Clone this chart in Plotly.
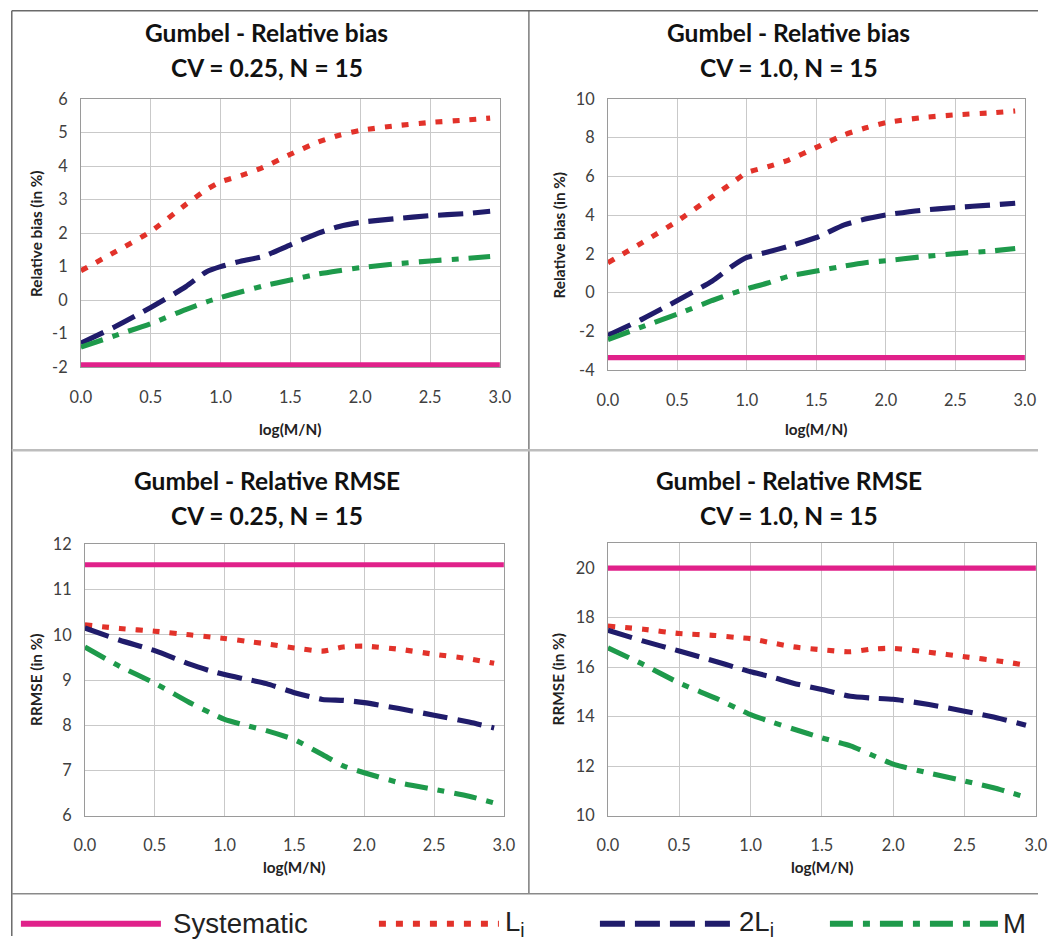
import plotly.graph_objects as go

# ---------------- data ----------------
X = [0.0, 0.25, 0.5, 0.75, 0.9, 1.0, 1.15, 1.3, 1.5, 1.7, 1.85, 2.0, 2.25, 2.5, 2.75, 2.93]
X_SYS = [0.0, 3.0]
X_TICKS = [0.0, 0.5, 1.0, 1.5, 2.0, 2.5, 3.0]

SERIES_NAMES = ["Systematic", "L<sub>i</sub>", "2L<sub>i</sub>", "M"]

# Relative bias, CV = 0.25
BIAS_025_SYS = -1.93
BIAS_025_LI = [0.88, 1.45, 2.05, 2.85, 3.30, 3.53, 3.72, 3.95, 4.35, 4.72, 4.92, 5.06, 5.20, 5.30, 5.37, 5.43]
BIAS_025_2LI = [-1.28, -0.78, -0.22, 0.40, 0.85, 1.00, 1.17, 1.30, 1.65, 2.00, 2.20, 2.32, 2.43, 2.52, 2.58, 2.65]
BIAS_025_M = [-1.40, -1.05, -0.70, -0.28, -0.05, 0.08, 0.25, 0.42, 0.60, 0.78, 0.88, 0.97, 1.08, 1.17, 1.24, 1.30]
BIAS_025_YTICKS = [-2, -1, 0, 1, 2, 3, 4, 5, 6]

# Relative bias, CV = 1.0
BIAS_10_SYS = -3.35
BIAS_10_LI = [1.55, 2.60, 3.70, 4.95, 5.70, 6.20, 6.50, 6.85, 7.50, 8.15, 8.50, 8.78, 9.03, 9.18, 9.28, 9.38]
BIAS_10_2LI = [-2.20, -1.35, -0.40, 0.60, 1.40, 1.82, 2.10, 2.40, 2.85, 3.50, 3.80, 4.02, 4.25, 4.40, 4.52, 4.62]
BIAS_10_M = [-2.42, -1.75, -1.10, -0.40, -0.02, 0.20, 0.50, 0.85, 1.12, 1.38, 1.55, 1.65, 1.85, 2.02, 2.15, 2.28]
BIAS_10_YTICKS = [-4, -2, 0, 2, 4, 6, 8, 10]

# Relative RMSE, CV = 0.25
RMSE_025_SYS = 11.55
RMSE_025_LI = [10.22, 10.14, 10.08, 10.00, 9.95, 9.92, 9.86, 9.80, 9.71, 9.64, 9.73, 9.75, 9.68, 9.57, 9.47, 9.37]
RMSE_025_2LI = [10.15, 9.88, 9.65, 9.35, 9.20, 9.12, 9.02, 8.92, 8.72, 8.57, 8.55, 8.50, 8.37, 8.22, 8.07, 7.94]
RMSE_025_M = [9.73, 9.30, 8.93, 8.50, 8.27, 8.13, 8.00, 7.88, 7.68, 7.35, 7.10, 6.95, 6.73, 6.58, 6.43, 6.28]
RMSE_025_YTICKS = [6, 7, 8, 9, 10, 11, 12]

# Relative RMSE, CV = 1.0
RMSE_10_SYS = 20.0
RMSE_10_LI = [17.66, 17.53, 17.36, 17.28, 17.20, 17.15, 16.98, 16.82, 16.70, 16.62, 16.73, 16.76, 16.60, 16.42, 16.24, 16.08]
RMSE_10_2LI = [17.49, 17.05, 16.65, 16.24, 15.98, 15.81, 15.60, 15.35, 15.10, 14.82, 14.75, 14.70, 14.49, 14.22, 13.92, 13.65]
RMSE_10_M = [16.78, 16.10, 15.36, 14.76, 14.35, 14.08, 13.78, 13.50, 13.14, 12.82, 12.45, 12.08, 11.72, 11.40, 11.05, 10.74]
RMSE_10_YTICKS = [10, 12, 14, 16, 18, 20]

# ---------------- geometry / styles ----------------
W, H = 1049, 945
S, O = 0.979, 10.1          # compensation for the capture's slight scale/offset


def pg(t):
    """target image pixel -> page pixel"""
    return (t - O) / S


def fs(v):
    return round(v / S, 2)


def px_x(t):
    return max(0.0, min(1.0, pg(t) / W))


def px_y(t):
    return max(0.0, min(1.0, 1 - pg(t) / H))


COLORS = ["#E0218A", "#E2322A", "#201C6B", "#1E9A4B"]
DASHES = ["solid", "7px,10px", "25px,10px", "23px,10px,7px,10px"]
LW = fs(5)
FONT = "Lato, 'Open Sans', sans-serif"
GRID = "#c9c9c9"

panels = [
    dict(sys=BIAS_025_SYS, series=[BIAS_025_LI, BIAS_025_2LI, BIAS_025_M],
         xd=[80, 499], yd=[99, 367], yr=[-2, 6], yt=BIAS_025_YTICKS,
         t1="Gumbel - Relative bias", t2="CV = 0.25, N = 15", ytitle="Relative bias (in %)",
         cx=266, ty=33, yt_x=35, xt_y=429),
    dict(sys=BIAS_10_SYS, series=[BIAS_10_LI, BIAS_10_2LI, BIAS_10_M],
         xd=[607, 1024], yd=[99, 370], yr=[-4, 10], yt=BIAS_10_YTICKS,
         t1="Gumbel - Relative bias", t2="CV = 1.0, N = 15", ytitle="Relative bias (in %)",
         cx=788, ty=33, yt_x=558, xt_y=429),
    dict(sys=RMSE_025_SYS, series=[RMSE_025_LI, RMSE_025_2LI, RMSE_025_M],
         xd=[84, 503], yd=[544, 815], yr=[6, 12], yt=RMSE_025_YTICKS,
         t1="Gumbel - Relative RMSE", t2="CV = 0.25, N = 15", ytitle="RRMSE (in %)",
         cx=266, ty=480, yt_x=35, xt_y=866),
    dict(sys=RMSE_10_SYS, series=[RMSE_10_LI, RMSE_10_2LI, RMSE_10_M],
         xd=[607, 1035], yd=[543, 815], yr=[10, 21], yt=RMSE_10_YTICKS,
         t1="Gumbel - Relative RMSE", t2="CV = 1.0, N = 15", ytitle="RRMSE (in %)",
         cx=788, ty=480, yt_x=557, xt_y=866),
]

fig = go.Figure()
annotations = []
layout_axes = {}

for i, p in enumerate(panels):
    n = "" if i == 0 else str(i + 1)
    xa, ya = "x" + n, "y" + n
    fig.add_trace(go.Scatter(x=X_SYS, y=[p["sys"]] * len(X_SYS), mode="lines",
                             name=SERIES_NAMES[0], showlegend=False, xaxis=xa, yaxis=ya,
                             line=dict(color=COLORS[0], width=LW, dash=DASHES[0])))
    for k, ys in enumerate(p["series"]):
        fig.add_trace(go.Scatter(x=X, y=ys, mode="lines", name=SERIES_NAMES[k + 1],
                                 showlegend=False, xaxis=xa, yaxis=ya,
                                 line=dict(color=COLORS[k + 1], width=LW,
                                           dash=DASHES[k + 1], shape="spline", smoothing=0.6)))
    layout_axes["xaxis" + n] = dict(
        domain=[px_x(p["xd"][0]), px_x(p["xd"][1])], anchor=ya, range=[0, 3],
        tickvals=X_TICKS, ticktext=[f"{v:.1f}" for v in X_TICKS],
        showgrid=True, gridcolor=GRID, gridwidth=1, zeroline=False,
        showline=True, linecolor="#9a9a9a", linewidth=1, mirror=True, ticks="",
        tickfont=dict(family=FONT, size=fs(16), color="#404040"), ticklabelstandoff=15)
    layout_axes["yaxis" + n] = dict(
        domain=[px_y(p["yd"][1]), px_y(p["yd"][0])], anchor=xa, range=p["yr"],
        tickvals=p["yt"], ticktext=[str(v) for v in p["yt"]],
        showgrid=True, gridcolor=GRID, gridwidth=1, zeroline=False,
        showline=True, linecolor="#9a9a9a", linewidth=1, mirror=True, ticks="",
        tickfont=dict(family=FONT, size=fs(16), color="#404040"), ticklabelstandoff=9)
    for txt, yy in ((p["t1"], p["ty"]), (p["t2"], p["ty"] + 35)):
        annotations.append(dict(text="<b>" + txt + "</b>", x=px_x(p["cx"]), y=px_y(yy),
                                xref="paper", yref="paper", showarrow=False, xanchor="center",
                                yanchor="middle", font=dict(family=FONT, size=fs(24), color="#111111")))
    annotations.append(dict(text="<b>log(M/N)</b>", x=px_x((p["xd"][0] + p["xd"][1]) / 2),
                            y=px_y(p["xt_y"]), xref="paper", yref="paper", showarrow=False,
                            xanchor="center", yanchor="middle",
                            font=dict(family=FONT, size=fs(15), color="#222222")))
    annotations.append(dict(text="<b>" + p["ytitle"] + "</b>", x=px_x(p["yt_x"]),
                            y=px_y((p["yd"][0] + p["yd"][1]) / 2), xref="paper", yref="paper",
                            showarrow=False, xanchor="center", yanchor="middle", textangle=-90,
                            font=dict(family=FONT, size=fs(15), color="#222222")))

# ---------------- frame lines ----------------
shapes = []


def hline(y, x0, x1, color, width):
    shapes.append(dict(type="line", xref="paper", yref="paper", x0=px_x(x0), x1=px_x(x1),
                       y0=px_y(y), y1=px_y(y), line=dict(color=color, width=width)))


def vline(x, y0, y1, color, width):
    shapes.append(dict(type="line", xref="paper", yref="paper", x0=px_x(x), x1=px_x(x),
                       y0=px_y(y0), y1=px_y(y1), line=dict(color=color, width=width)))


EDGE = O + 0.8 * S
hline(EDGE, EDGE, W + 20, "#6a6a6a", 1.5)
vline(EDGE, EDGE, H + 20, "#6a6a6a", 1.5)
vline(528, EDGE, 893, "#5a5a5a", 1.2)
hline(450, EDGE, W + 20, "#bdbdbd", 2.5)
hline(893, EDGE, W + 20, "#8a8a8a", 1.5)

# ---------------- legend (drawn) ----------------
LEG_Y = 923
leg_items = [(20, 160, 170), (378, 498, 502), (599, 732, 736), (829, 997, 1000)]
for k, (lx0, lx1, tx) in enumerate(leg_items):
    shapes.append(dict(type="line", xref="paper", yref="paper", x0=px_x(lx0), x1=px_x(lx1),
                       y0=px_y(LEG_Y), y1=px_y(LEG_Y),
                       line=dict(color=COLORS[k], width=fs(6), dash=DASHES[k])))
    annotations.append(dict(text=SERIES_NAMES[k], x=px_x(tx), y=px_y(LEG_Y), xref="paper",
                            yref="paper", showarrow=False, xanchor="left", yanchor="middle",
                            font=dict(family="'Liberation Sans', Arial, sans-serif",
                                      size=fs(27), color="#222222")))

fig.update_layout(
    width=W, height=H, margin=dict(l=0, r=0, t=0, b=0),
    paper_bgcolor="white", plot_bgcolor="white",
    showlegend=False, annotations=annotations, shapes=shapes,
    **layout_axes,
)

fig.write_html(
    "out.html",
    config={"displayModeBar": False},
    post_script="document.body.style.margin='0px';document.body.style.overflow='hidden';",
)
